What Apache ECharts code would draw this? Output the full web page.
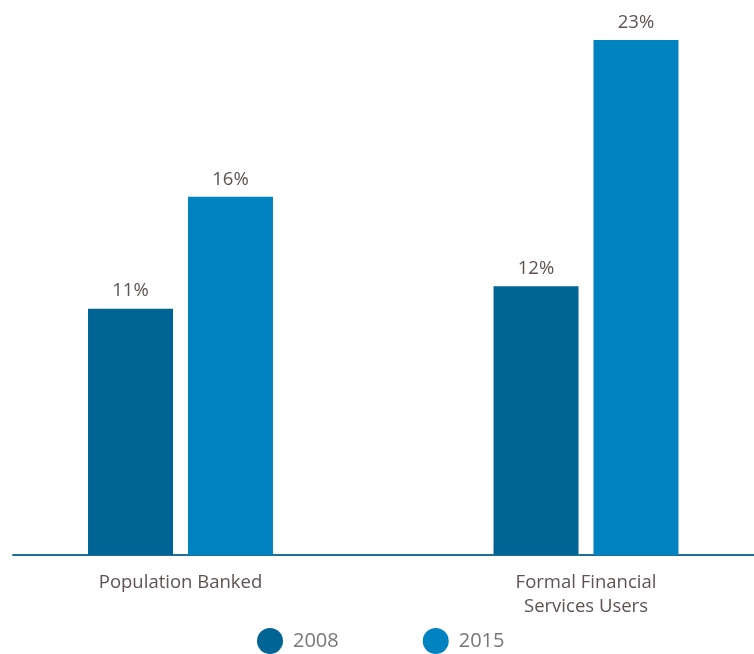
<!DOCTYPE html>
<html><head><meta charset="utf-8">
<script src="https://cdn.jsdelivr.net/npm/echarts@6/dist/echarts.min.js"></script>
<style>html,body{margin:0;padding:0;background:#fff}#c{width:754px;height:654px}</style>
</head><body><div id="c"></div>
<script>
const categories = ['Population Banked', 'Formal Financial\nServices Users'];
const years = ['2008', '2015'];
const values2008 = [11, 12];
const values2015 = [16, 23];
const colors = ['#006495', '#0083c0'];
const textColor = '#5e5350';
const font = 'Open Sans';

const chart = echarts.init(document.getElementById('c'));
const labelCfg = {show: true, position: 'top', distance: 8, formatter: '{c}%', color: textColor, fontSize: 18.5, fontFamily: font};
chart.setOption({
  animation: false,
  grid: [
    {left: 180.5, right: 168, top: 40, bottom: 99},
    {left: 13, right: 0, top: 40, bottom: 99}
  ],
  legend: {
    data: years, top: 628, left: 257, padding: 0, icon: 'circle', itemWidth: 26, itemHeight: 26, itemGap: 84,
    textStyle: {color: '#777', fontSize: 20, fontFamily: font, padding: [0, 0, 0, 5]}
  },
  xAxis: [
    {type: 'category', gridIndex: 0, data: categories, boundaryGap: false,
     axisLine: {show: false}, axisTick: {show: false},
     axisLabel: {color: textColor, fontSize: 18.5, fontFamily: font, margin: 16, lineHeight: 24}},
    {type: 'value', gridIndex: 1, min: 0, max: 1, axisLine: {show: true, lineStyle: {color: '#1f6f9c', width: 2}},
     axisTick: {show: false}, axisLabel: {show: false}, splitLine: {show: false}}
  ],
  yAxis: [
    {type: 'value', gridIndex: 0, min: 0, max: 23, show: false, splitLine: {show: false}},
    {type: 'value', gridIndex: 1, min: 0, max: 1, show: false, splitLine: {show: false}}
  ],
  series: [
    {name: years[0], type: 'bar', data: values2008, barWidth: 85, barGap: '17.6%', clip: false,
     itemStyle: {color: colors[0]}, label: labelCfg},
    {name: years[1], type: 'bar', data: values2015, barWidth: 85, clip: false,
     itemStyle: {color: colors[1]}, label: labelCfg}
  ]
});
</script></body></html>
